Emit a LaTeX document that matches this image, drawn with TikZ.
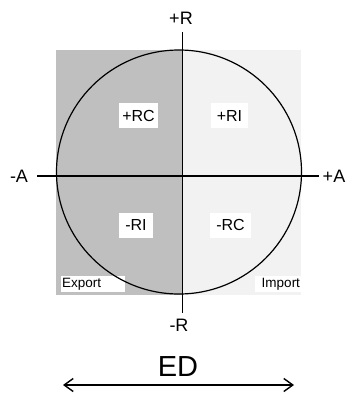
\documentclass[tikz,border=0pt]{standalone}
\usepackage{fontspec}
\setmainfont{Liberation Sans}
\usetikzlibrary{arrows.meta}
\definecolor{darkq}{HTML}{BFBFBF}
\definecolor{lightq}{HTML}{F2F2F2}
\begin{document}
\begin{tikzpicture}[x=1pt,y=-1pt,
  axis/.style={line width=1.2pt,black},
  axlabel/.style={font=\fontsize{18}{20}\selectfont,inner sep=0pt},
  qlabel/.style={fill=white,font=\fontsize{16}{18}\selectfont,inner sep=0pt,minimum height=25pt},
  cornerlabel/.style={fill=white,font=\fontsize{13.5}{15}\selectfont,inner sep=0pt,minimum height=16pt}]
\useasboundingbox (0,0) rectangle (349,394);
% shaded halves
\fill[darkq] (56,50) rectangle (182.5,295);
\fill[lightq] (182.5,50) rectangle (301,295);
% quadrant labels
\node[qlabel,minimum width=39pt] (rc) at (138.5,115.5) {+RC};
\node[qlabel,minimum width=37pt] (ri) at (229.5,115.5) {+RI};
\node[qlabel,minimum width=34pt] (mri) at (136,225) {-RI};
\node[qlabel,minimum width=41pt] (mrc) at (230.5,225) {-RC};
\node[cornerlabel,minimum width=64pt,text width=62pt,align=left] (exp) at (93,284) {Export};
\node[cornerlabel,minimum width=46pt,text width=44pt,align=right] (imp) at (278,284) {Import};
% circle
\draw[line width=1.2pt] (179,172) ellipse [x radius=122.5, y radius=122];
% axes
\coordinate (xl) at (37,176);
\coordinate (xr) at (319,176);
\coordinate (yt) at (182.5,32);
\coordinate (yb) at (182.5,313);
\draw[axis] (xl) -- (xr);
\draw[axis] (yt) -- (yb);
\node[axlabel] (pr) at (181,18) {+R};
\node[axlabel] (mr) at (179,325) {-R};
\node[axlabel] (ma) at (19,176) {-A};
\node[axlabel] (pa) at (334,176) {+A};
% ED arrow
\node[font=\fontsize{29}{32}\selectfont,inner sep=0pt] (ed) at (178,367) {ED};
\coordinate (al) at (63,385);
\coordinate (ar) at (294,385);
\draw[line width=1.4pt,{Straight Barb[length=9pt,width=13pt]}-{Straight Barb[length=9pt,width=13pt]}] (al) -- (ar);
\end{tikzpicture}
\end{document}
